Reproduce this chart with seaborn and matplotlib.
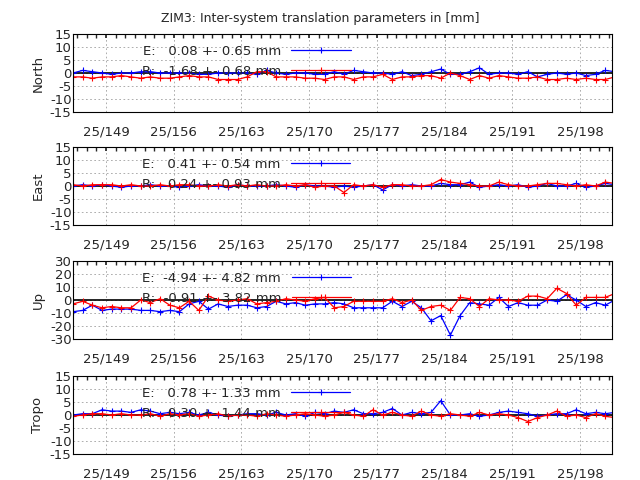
import matplotlib
matplotlib.use("Agg")
import matplotlib.pyplot as plt
import seaborn as sns
import numpy as np
import pandas as pd

sns.set_theme(style="white")

days = np.arange(145.6, 201.7, 1.0)

north_e = [0, 1, 0.5, 0, -0.5, 0, 0, 0.5, 0.5, 0, 0, 0, 0, -0.5, -0.5, 0, 0, 0, 0, -0.5, 1, 0, -0.5, 0,
           0, -0.5, -0.5, 0.5, -0.5, 1, 0.5, 0, 0, -0.5, 0.5, -1, -0.5, 0.5, 1.5, -0.5, -0.5, 0.5, 2, -0.5,
           0, 0, -0.5, 0.5, -1.5, -0.5, 0, -0.5, 0, -1, -0.5, 1, 0.5]
north_r = [-1.5, -1.5, -2, -1.5, -1.5, -1, -1.5, -2, -1.5, -2, -2, -1.5, -1, -1.5, -1.5, -2.5, -2.5, -2.5,
           -1.5, 0.5, 0.5, -1.5, -1.5, -1.5, -2, -2, -2.5, -1.5, -1.5, -2.5, -1.5, -1.5, -0.5, -2.5, -1.5,
           -1.5, -1, -1, -2, 0, -1, -2.5, -1, -2, -1, -1.5, -2, -2, -1.5, -2.5, -2.5, -2, -2.5, -2, -2.5,
           -2.5, -1.5]
east_e = [0, 0.5, 0, 0.5, 0, -0.5, 0, 0, 0.5, 0, 0, -0.5, 0, 0.5, 0, 0, -0.5, 0.5, 0, 0, 0, 0.5, 0,
          -0.5, 0.5, 0, 0, -0.5, 0, -0.5, 0, 0.5, -1.5, 0.5, 0, 0.5, 0, 0, 1, 0.5, 0.5, 1.5, -0.5, 0, 0.5,
          0, 0.5, -0.5, 0, 1, 0, 0, 1, -0.5, 0, 1, 0.5]
east_r = [0.5, 0, 0.5, 0.5, 0.5, 0, 0.5, 0, 0, 0.5, 0, 0.5, 0.5, 0, 0, 0.5, 0, 0.5, 0, 0.5, 0, 0, 0.5,
          0, 0.5, -0.5, 0, 0, -2.5, 0.5, 0, 0.5, -0.5, 0.5, 0.5, 0, 0, 0.5, 2.5, 1.5, 1, 0.5, 0, 0, 1.5,
          0.5, 0, 0, 0.5, 1, 1, 0.5, 0, 0.5, 0, 1.5, 1]
up_e = [-9, -8, -4, -8, -7, -7, -7, -8, -8, -9, -8, -9, -3, -1, -7, -3, -5, -4, -4, -6, -5, -1, -3, -2,
        -4, -3, -3, -2, -3, -6, -6, -6, -6, -1, -5, -1, -6, -16, -12, -27, -12, -2, -3, -4, 2, -5, -2,
        -4, -4, 0, -1, 4, 0, -5, -2, -4, 0, -4, -1]
up_r = [-3, -1, -4, -6, -5, -6, -6, 0, -2, 1, -4, -6, -1, -8, 3, 0, -1, 0, 1, -3, -2, -1, 1, 0, -1, 1, 2,
        -6, -5, -1, -1, -1, -1, 1, -2, 0, -8, -5, -4, -8, 2, 1, -5, 1, 0, 0, -1, 3, 3, 1, 9, 5, -4, 2, 2,
        2, 5, 1]
tropo_e = [0, 0.5, 0.5, 2, 1.5, 1.5, 1, 2, 1.5, 0.5, 1, 0.5, 1, 0, 1, 0, -0.5, 0, 0.5, 0.5, 0, 1, 0, 0.5,
           -0.5, 1, 0.5, 1.5, 1, 2, 0.5, 0.5, 1, 2.5, 0, 1, 0.5, 1, 5.5, 0, 0, 0.5, -0.5, 0, 1, 1.5, 1, 0.5,
           -0.5, 0, 0.5, 0.5, 2, 0.5, 1, 0.5, 1]
tropo_r = [-0.5, 0, 0.5, 0.5, 0, 0.5, 0, 0, 0.5, -0.5, 0.5, 0, 0.5, -0.5, 0, 0.5, -0.5, 0, 0, -0.5, 0.5, 0,
           -0.5, 0, 0.5, 0, -0.5, 0, 1, 0, -0.5, 2, 0, 1, 0, -0.5, 1.5, 0, -0.5, 0.5, 0, -0.5, 1, 0, 0.5, 0,
           -1, -2.5, -1, 0, 1.5, -0.5, 0, -1, 0.5, -0.5, -1]

panels = [
    ("North", north_e, north_r, "E:   0.08 +- 0.65 mm", "R:  -1.68 +- 0.68 mm", 15, [-15, -10, -5, 0, 5, 10, 15]),
    ("East", east_e, east_r, "E:   0.41 +- 0.54 mm", "R:   0.24 +- 0.93 mm", 15, [-15, -10, -5, 0, 5, 10, 15]),
    ("Up", up_e, up_r, "E:  -4.94 +- 4.82 mm", "R:  -0.91 +- 3.82 mm", 30, [-30, -20, -10, 0, 10, 20, 30]),
    ("Tropo", tropo_e, tropo_r, "E:   0.78 +- 1.33 mm", "R:   0.30 +- 1.44 mm", 15, [-15, -10, -5, 0, 5, 10, 15]),
]
xticks = [149, 156, 163, 170, 177, 184, 191, 198]
xlabels = ["25/%d" % d for d in xticks]

fig = plt.figure(figsize=(6.4, 4.8), dpi=100)
tops = [34, 147, 261, 376]
for (name, e, r, le, lr, lim, yt), top in zip(panels, tops):
    ax = fig.add_axes([73 / 640, 1 - (top + 78) / 480, 539 / 640, 78 / 480])
    ne, nr = min(len(e), len(days)), min(len(r), len(days))
    df_e = pd.DataFrame({"x": days[:ne], "y": e[:ne]})
    df_r = pd.DataFrame({"x": days[:nr], "y": r[:nr]})
    ax.axhline(0, color="black", lw=1.2)
    sns.lineplot(data=df_e, x="x", y="y", ax=ax, color="#0000ff", lw=0.9, marker="+",
                 markersize=4, mew=0.8, mec="#0000ff", label=le)
    sns.lineplot(data=df_r, x="x", y="y", ax=ax, color="#ff0000", lw=0.9, marker="+",
                 markersize=4, mew=0.8, mec="#ff0000", label=lr)
    ax.set_xlim(145.6, 201.3)
    ax.set_ylim(-lim, lim)
    ax.set_yticks(yt)
    ax.set_yticklabels([str(v) for v in yt], fontsize=9.5)
    ax.set_xticks(xticks)
    ax.set_xticklabels(xlabels, fontsize=9.5)
    ax.set_xticks(np.arange(146, 202, 1), minor=True)
    ax.tick_params(which="both", direction="in", length=3, top=True, right=False)
    ax.tick_params(axis="x", pad=10)
    ax.tick_params(axis="y", pad=1, length=4)
    ax.grid(True, ls=(0, (2, 3)), color="#a0a0a0", lw=0.6)
    ax.set_xlabel("")
    ax.set_ylabel(name, fontsize=9.5)
    for s in ax.spines.values():
        s.set_color("black")
        s.set_linewidth(0.8)
    leg = ax.legend(loc="upper left", bbox_to_anchor=(0.11, 0.98), frameon=False, fontsize=9.5,
                    handlelength=4.5, markerfirst=False, labelspacing=0.55, borderpad=0.2)

fig.text(0.5, 0.975, "ZIM3: Inter-system translation parameters in [mm]", ha="center", va="top", fontsize=9)
fig.savefig("out.png", dpi=100)
